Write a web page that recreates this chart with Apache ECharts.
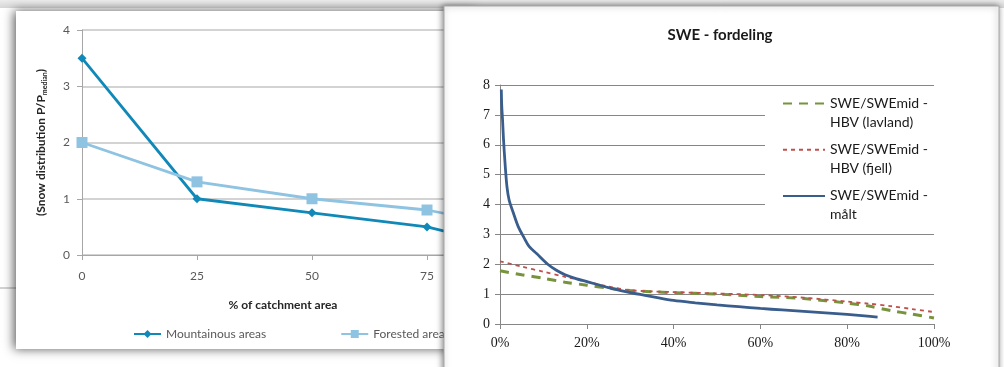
<!DOCTYPE html>
<html><head><meta charset="utf-8">
<script src="https://cdn.jsdelivr.net/npm/echarts@6/dist/echarts.min.js"></script>
<style>html,body{margin:0;padding:0;background:#fff}#c{width:1004px;height:367px}</style>
</head><body><div id="c"></div>
<script>
// ---- Left chart data ----
const leftX = [0, 25, 50, 75, 100];
const mountainous = [3.5, 1.0, 0.75, 0.5, 0.0];
const forested = [2.0, 1.3, 1.0, 0.8, 0.4];
const leftNames = ['Mountainous areas', 'Forested areas'];

// ---- Right chart data (x in % of area) ----
const maaltX = [0.3,0.4,0.6,0.8,1.2,1.6,2.1,3,4.2,5.5,6.7,8.5,11,13,15,17.5,20,25,30,35,40,45,50,55,60,65,70,75,80,84,87];
const maaltY = [7.85,7.3,6.8,6.2,5.3,4.6,4.15,3.75,3.26,2.9,2.6,2.35,2.0,1.8,1.65,1.52,1.42,1.22,1.05,0.92,0.79,0.71,0.64,0.58,0.52,0.47,0.42,0.37,0.32,0.27,0.23];
const hbvX = [0,5,10,15,20,25,30,35,40,50,60,70,80,85,90,95,100];
const lavland = [1.78,1.65,1.53,1.4,1.3,1.2,1.12,1.08,1.05,1.0,0.92,0.85,0.7,0.6,0.45,0.33,0.2];
const fjell = [2.1,1.92,1.75,1.58,1.42,1.25,1.13,1.09,1.07,1.02,0.97,0.88,0.75,0.68,0.6,0.5,0.4];
const rightNames = ['SWE/SWEmid -\nHBV (lavland)', 'SWE/SWEmid -\nHBV (fjell)', 'SWE/SWEmid -\nmålt'];
const rightTitle = 'SWE - fordeling';

const pair = (xs, ys) => xs.map((x, i) => [x, ys[i]]);

const chart = echarts.init(document.getElementById('c'), null, {renderer: 'canvas'});
const lf = 'Lato, "Open Sans", sans-serif';
const sf = '"Liberation Serif", "DejaVu Serif", serif';

chart.setOption({
  backgroundColor: '#ffffff',
  animation: false,
  title: {
    text: rightTitle, left: 715, textAlign: 'center', top: 23, zlevel: 1, z: 6,
    textStyle: {fontFamily: lf, fontSize: 15, fontWeight: 'bold', color: '#1a1a1a'}
  },
  graphic: [
    {type: 'rect', zlevel: 0, z: 0, shape: {x: 0, y: 0, width: 1004, height: 8},
     style: {fill: new echarts.graphic.LinearGradient(0,0,0,1,[{offset:0,color:'#ececec'},{offset:1,color:'#d6d6d6'}])}},
    {type: 'line', zlevel: 0, z: 0, shape: {x1: 0, y1: 288, x2: 20, y2: 288}, style: {stroke: '#a6a6a6', lineWidth: 1}},
    {type: 'rect', zlevel: 0, z: 1, shape: {x: 16, y: 11, width: 460, height: 338},
     style: {fill: '#ffffff', shadowBlur: 10, shadowColor: 'rgba(0,0,0,0.65)', shadowOffsetX: -2, shadowOffsetY: 0}},
    {type: 'rect', zlevel: 1, z: 1, shape: {x: 444, y: 6, width: 555, height: 380},
     style: {fill: '#ffffff', stroke: '#a8a8a8', lineWidth: 1, shadowBlur: 6, shadowColor: 'rgba(0,0,0,0.5)', shadowOffsetX: -1, shadowOffsetY: 0}},
    // white legend area of the right chart, covering the gridlines behind it
    {type: 'rect', zlevel: 1, z: 4, shape: {x: 765, y: 90, width: 170, height: 138}, style: {fill: '#ffffff'}}
  ],
  legend: [
    {data: leftNames, zlevel: 0, z: 4, left: 133, top: 328, padding: 0, itemWidth: 27, itemHeight: 10, itemGap: 74,
     textStyle: {fontFamily: lf, fontSize: 12, color: '#595959'}},
    {data: rightNames, zlevel: 1, z: 6, orient: 'vertical', left: 782, top: 75, padding: 0, itemWidth: 42, itemHeight: 10,
     itemGap: -10.8, itemStyle: {opacity: 0},
     formatter: name => ' \n' + name,
     textStyle: {fontFamily: lf, fontSize: 14, color: '#1a1a1a', lineHeight: 19}}
  ],
  grid: [
    {left: 82, top: 30, width: 460, height: 225},
    {left: 500, top: 85, width: 434, height: 239}
  ],
  xAxis: [
    {gridIndex: 0, type: 'value', min: 0, max: 100, interval: 25, zlevel: 0, z: 3,
     name: '% of catchment area', nameLocation: 'middle', nameGap: 44,
     nameTextStyle: {fontFamily: lf, fontSize: 12, fontWeight: 'bold', color: '#262626', padding: [0, 58, 0, 0]},
     axisLine: {lineStyle: {color: '#a6a6a6', width: 1}}, axisTick: {show: true, length: 5, lineStyle: {color: '#a6a6a6'}},
     axisLabel: {margin: 15, fontFamily: lf, fontSize: 12, color: '#595959'}, splitLine: {show: false}},
    {gridIndex: 1, type: 'value', min: 0, max: 100, interval: 20, zlevel: 1, z: 3,
     axisLine: {lineStyle: {color: '#868686', width: 1}}, axisTick: {show: true, length: 5, lineStyle: {color: '#868686'}},
     axisLabel: {margin: 12, fontFamily: sf, fontSize: 14, color: '#1a1a1a', formatter: '{value}%'}, splitLine: {show: false}}
  ],
  yAxis: [
    {gridIndex: 0, type: 'value', min: 0, max: 4, interval: 1, zlevel: 0, z: 3,
     name: '(Snow distribution P/P{sub|median})', nameLocation: 'middle', nameGap: 34, nameRotate: 90,
     nameTextStyle: {fontFamily: lf, fontSize: 12, fontWeight: 'bold', color: '#262626',
       rich: {sub: {fontFamily: lf, fontSize: 7, fontWeight: 'bold', color: '#262626', padding: [6, 0, 0, 0]}}},
     axisLine: {show: true, lineStyle: {color: '#a6a6a6', width: 1}}, axisTick: {show: true, length: 5, lineStyle: {color: '#a6a6a6'}},
     axisLabel: {margin: 12, fontFamily: lf, fontSize: 12, color: '#595959'},
     splitLine: {lineStyle: {color: '#c4c4c4', width: 1.5}}},
    {gridIndex: 1, type: 'value', min: 0, max: 8, interval: 1, zlevel: 1, z: 3,
     axisLine: {show: true, lineStyle: {color: '#868686', width: 1}}, axisTick: {show: true, length: 5, lineStyle: {color: '#868686'}},
     axisLabel: {margin: 10, fontFamily: sf, fontSize: 14, color: '#1a1a1a'},
     splitLine: {lineStyle: {color: '#868686', width: 1}}}
  ],
  series: [
    {name: leftNames[0], type: 'line', xAxisIndex: 0, yAxisIndex: 0, zlevel: 0, z: 5, data: pair(leftX, mountainous),
     symbol: 'diamond', symbolSize: 9, lineStyle: {color: '#1189b8', width: 2.8}, itemStyle: {color: '#1189b8'}},
    {name: leftNames[1], type: 'line', xAxisIndex: 0, yAxisIndex: 0, zlevel: 0, z: 5, data: pair(leftX, forested),
     symbol: 'rect', symbolSize: 11, lineStyle: {color: '#8ec3e2', width: 2.8}, itemStyle: {color: '#8ec3e2'}},
    {name: rightNames[0], type: 'line', xAxisIndex: 1, yAxisIndex: 1, zlevel: 1, z: 5, data: pair(hbvX, lavland),
     showSymbol: false, symbol: 'none', smooth: 0.3, lineStyle: {color: '#77933c', width: 3, type: [9, 7]}, itemStyle: {color: '#77933c'}},
    {name: rightNames[1], type: 'line', xAxisIndex: 1, yAxisIndex: 1, zlevel: 1, z: 5, data: pair(hbvX, fjell),
     showSymbol: false, symbol: 'none', smooth: 0.3, lineStyle: {color: '#c0504d', width: 1.8, type: [4, 4]}, itemStyle: {color: '#c0504d'}},
    {name: rightNames[2], type: 'line', xAxisIndex: 1, yAxisIndex: 1, zlevel: 1, z: 5, data: pair(maaltX, maaltY),
     showSymbol: false, symbol: 'none', smooth: 0.3, lineStyle: {color: '#395d8c', width: 2.8}, itemStyle: {color: '#395d8c'}}
  ]
});
</script></body></html>
